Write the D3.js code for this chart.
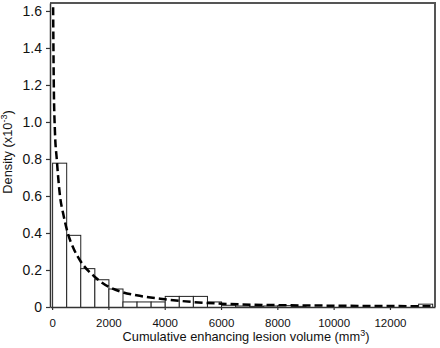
<!DOCTYPE html>
<html>
<head>
<meta charset="utf-8">
<script src="https://cdn.jsdelivr.net/npm/d3@7"></script>
<style>
  body { margin: 0; background: #fff; }
  svg { display: block; font-family: "Liberation Sans", Arial, sans-serif; }
</style>
</head>
<body>
<div id="chart"></div>
<script>
// Histogram bins, 500 mm3 wide (density x10^-3).
const binStarts = [0, 500, 1000, 1500, 2000, 2500, 3000, 3500, 4000, 4500, 5000, 5500, 6000, 6500, 7000, 7500, 8000, 8500, 13000];
const binDensity = [0.78, 0.39, 0.21, 0.15, 0.10, 0.03, 0.03, 0.03, 0.06, 0.06, 0.06, 0.03, 0.012, 0.008, 0.006, 0.008, 0.01, 0.006, 0.018];
const binWidth = 500;

// Fitted density curve.
const fitX = [30, 60, 100, 165, 280, 400, 555, 750, 1000, 1500, 2000, 2500, 3000, 4000, 5000, 6000, 8000, 10000, 12000, 13600];
const fitY = [1.75, 1.2, 0.95, 0.8, 0.6, 0.5, 0.4, 0.32, 0.25, 0.165, 0.11, 0.08, 0.063, 0.042, 0.027, 0.018, 0.01, 0.007, 0.005, 0.004];

const xTicks = [0, 2000, 4000, 6000, 8000, 10000, 12000];
const yTicks = [0, 0.2, 0.4, 0.6, 0.8, 1.0, 1.2, 1.4, 1.6];

const width = 440;
const height = 348;
const pl = 50, pr = 435, pt = 3, pb = 307;

let svg = d3.select('#chart')
  .append('svg')
  .attr('width', width)
  .attr('height', height);

let x = d3.scaleLinear().domain([-75, 13600]).range([pl, pr]);
let y = d3.scaleLinear().domain([0, 1.643]).range([pb, pt]);

svg.append('defs').append('clipPath')
  .attr('id', 'plot')
  .append('rect')
    .attr('x', pl).attr('y', pt)
    .attr('width', pr - pl).attr('height', pb - pt);

// Bars.
svg.append('g')
  .selectAll('rect')
  .data(binStarts)
  .enter()
  .append('rect')
    .attr('x', d => x(d) + 0.5)
    .attr('y', (d, i) => y(binDensity[i]) + 0.5)
    .attr('width', d => x(d + binWidth) - x(d))
    .attr('height', (d, i) => y(0) - y(binDensity[i]))
    .attr('fill', '#fff')
    .attr('stroke', '#222')
    .attr('stroke-width', 1);

// Dashed fitted curve.
let line = d3.line()
  .x((d, i) => x(d))
  .y((d, i) => y(fitY[i]))
  .curve(d3.curveMonotoneX);

svg.append('path')
  .datum(fitX)
  .attr('clip-path', 'url(#plot)')
  .attr('d', line)
  .attr('fill', 'none')
  .attr('stroke', '#000')
  .attr('stroke-width', 2.5)
  .attr('stroke-dasharray', '8,4');

// Frame (top and right).
svg.append('path')
  .attr('d', `M${pl},${pt}H${pr}V${pb}`)
  .attr('fill', 'none')
  .attr('stroke', '#555')
  .attr('stroke-width', 2);

let xAxis = d3.axisBottom(x)
  .tickValues(xTicks)
  .tickSize(3)
  .tickSizeOuter(0)
  .tickPadding(9)
  .tickFormat(d3.format('d'));

let yAxis = d3.axisLeft(y)
  .tickValues(yTicks)
  .tickSize(4)
  .tickSizeOuter(0)
  .tickPadding(4)
  .tickFormat(d => d === 0 ? '0' : d3.format('.1f')(d));

let gx = svg.append('g')
  .attr('transform', `translate(0,${pb})`)
  .call(xAxis);

let gy = svg.append('g')
  .attr('transform', `translate(${pl},0)`)
  .call(yAxis);

for (let g of [gx, gy]) {
  g.select('.domain').attr('stroke', '#333').attr('stroke-width', 1.5);
  g.selectAll('.tick line').attr('stroke', '#333').attr('stroke-width', 1.2);
  g.selectAll('.tick text').attr('fill', '#111');
  g.attr('font-family', null);
}
gx.attr('font-size', 11.5);
gy.attr('font-size', 14);

// Axis titles.
let xt = svg.append('text')
  .attr('x', 246)
  .attr('y', 341)
  .attr('text-anchor', 'middle')
  .attr('font-size', 12.8)
  .attr('fill', '#111')
  .text('Cumulative enhancing lesion volume (mm');
xt.append('tspan').attr('dy', -5).attr('font-size', 9).text('3');
xt.append('tspan').attr('dy', 5).text(')');

let yt = svg.append('text')
  .attr('transform', 'translate(12,152) rotate(-90)')
  .attr('text-anchor', 'middle')
  .attr('font-size', 12.8)
  .attr('fill', '#111')
  .text('Density (x10');
yt.append('tspan').attr('dy', -5).attr('font-size', 9).text('-3');
yt.append('tspan').attr('dy', 5).text(')');
</script>
</body>
</html>
